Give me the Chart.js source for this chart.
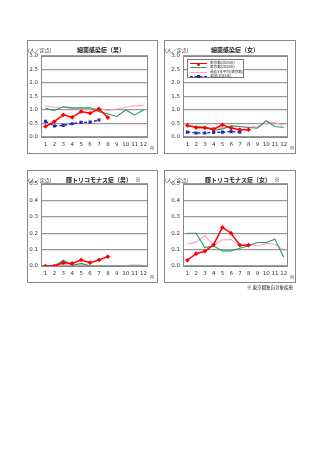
<!DOCTYPE html>
<html>
<head>
<meta charset="utf-8">
<script src="https://cdn.jsdelivr.net/npm/chart.js@4.4.1/dist/chart.umd.min.js"></script>
<style>
body { margin: 0; width: 320px; height: 452px; background: #fff; position: relative; overflow: hidden;
       font-family: "Noto Sans CJK JP", "Noto Sans", sans-serif; color: #222; }
.frame { position: absolute; border: 1px solid #888; box-sizing: border-box; }
canvas { position: absolute; }
.txt { position: absolute; white-space: nowrap; line-height: 1; }
.title { font-size: 6px; font-weight: bold; }
.unit { font-size: 5px; }
.mon { font-size: 4px; }
.legend { position: absolute; border: 1px solid #777; background: #fff; box-sizing: border-box; }
.legend .row { position: absolute; left: 2px; height: 4px; }
.legend .smp { position: absolute; left: 0; top: 2px; width: 17px; height: 0; }
.legend .lbl { position: absolute; left: 20px; top: 0; font-size: 3.6px; line-height: 4px; white-space: nowrap; }
.legend .dot { position: absolute; left: 7px; top: -1.5px; width: 3px; height: 3px; }
</style>
</head>
<body>
<script>
// 月
const months = ['1', '2', '3', '4', '5', '6', '7', '8', '9', '10', '11', '12'];

const seriesNames = ['東京都(2025年)', '東京都(2024年)', '過去5年平均(東京都)', '全国(2025年)'];

// 細菌感染症（男）
const bactM2025 = [0.39, 0.57, 0.82, 0.73, 0.94, 0.88, 1.04, 0.72];
const bactM2024 = [1.06, 0.98, 1.12, 1.08, 1.08, 1.08, 0.94, 0.85, 0.76, 1.00, 0.82, 1.00];
const bactMAvg = [1.15, 1.10, 1.10, 1.06, 1.04, 1.04, 1.06, 0.98, 1.04, 1.10, 1.15, 1.18];
const bactMNation = [0.58, 0.41, 0.43, 0.49, 0.54, 0.55, 0.63];

// 細菌感染症（女）
const bactF2025 = [0.43, 0.35, 0.34, 0.29, 0.45, 0.33, 0.27, 0.27];
const bactF2024 = [0.41, 0.39, 0.37, 0.24, 0.30, 0.41, 0.39, 0.35, 0.33, 0.60, 0.39, 0.35];
const bactFAvg = [0.41, 0.39, 0.37, 0.33, 0.33, 0.37, 0.39, 0.37, 0.39, 0.51, 0.54, 0.41];
const bactFNation = [0.18, 0.15, 0.15, 0.17, 0.18, 0.20, 0.18];

// 膣トリコモナス症（男）
const trichM2025 = [0.0, 0.0, 0.020, 0.016, 0.037, 0.020, 0.037, 0.057];
const trichM2024 = [0.0, 0.0, 0.035, 0.004, 0.016, 0.0, 0.0, 0.0, 0.0, 0.0, 0.0, 0.0];
const trichMAvg = [0.0, 0.003, 0.010, 0.005, 0.008, 0.003, 0.0, 0.003, 0.0, 0.003, 0.007, 0.005];

// 膣トリコモナス症（女）
const trichF2025 = [0.035, 0.075, 0.090, 0.130, 0.235, 0.200, 0.127, 0.127];
const trichF2024 = [0.200, 0.200, 0.112, 0.122, 0.092, 0.092, 0.108, 0.122, 0.143, 0.143, 0.163, 0.055];
const trichFAvg = [0.133, 0.147, 0.184, 0.128, 0.160, 0.161, 0.122, 0.133, 0.124, 0.138, 0.133, 0.096];

const RED = '#ff0000', GREEN = '#2e9a5e', PINK = '#ff9fd0', BLUE = '#2a2ab8';

function el(cls, css, text) {
    const d = document.createElement('div');
    d.className = cls;
    Object.assign(d.style, css);
    if (text) d.textContent = text;
    document.body.appendChild(d);
    return d;
}

// 枠の右上を描く
const boxPlugin = {
    id: 'box',
    afterDraw(chart) {
        const a = chart.chartArea, c = chart.ctx;
        c.save();
        c.strokeStyle = '#888';
        c.lineWidth = 1;
        c.strokeRect(Math.round(a.left) + 0.5, Math.round(a.top) + 0.5, Math.round(a.right - a.left) - 1, Math.round(a.bottom - a.top));
        c.restore();
    }
};

function panel(p) {
    el('frame', { left: p.fx + 'px', top: p.fy + 'px', width: p.fw + 'px', height: p.fh + 'px' });
    const cv = document.createElement('canvas');
    cv.width = p.fw - 2; cv.height = p.fh - 2;
    cv.style.left = (p.fx + 1) + 'px'; cv.style.top = (p.fy + 1) + 'px';
    document.body.appendChild(cv);

    const ds = [
        { label: seriesNames[0], data: p.s2025, borderColor: RED, backgroundColor: RED, borderWidth: 1.5,
          pointRadius: 1.3, pointStyle: 'rectRot' },
        { label: seriesNames[1], data: p.s2024, borderColor: GREEN, borderWidth: 1.1, pointRadius: 0 },
        { label: seriesNames[2], data: p.sAvg, borderColor: PINK, borderWidth: 1.1, pointRadius: 0 }
    ];
    if (p.sNation) {
        ds.splice(1, 0, { label: seriesNames[3], data: p.sNation, borderColor: BLUE, backgroundColor: BLUE,
            borderWidth: 1.4, borderDash: [3, 2], pointRadius: 1.2, pointStyle: 'rect' });
    }

    new Chart(cv.getContext('2d'), {
        type: 'line',
        data: { labels: months, datasets: ds },
        options: {
            responsive: false,
            animation: false,
            layout: { padding: { top: p.pt, right: p.pr, left: 0, bottom: 0 } },
            plugins: { legend: { display: false }, tooltip: { enabled: false } },
            scales: {
                x: {
                    offset: true,
                    afterFit(s) { s.height = p.xh; },
                    grid: { display: false, drawTicks: false },
                    border: { display: false },
                    ticks: { maxRotation: 0, autoSkip: false, padding: 4, color: '#333',
                             font: { size: 5.5, family: 'DejaVu Sans' } }
                },
                y: {
                    min: 0, max: p.max,
                    afterFit(s) { s.width = p.yw; },
                    grid: { color: '#9a9a9a', lineWidth: 1.3, drawTicks: false },
                    border: { display: false },
                    ticks: { stepSize: p.step, padding: 3, color: '#333',
                             callback: v => v.toFixed(1),
                             font: { size: 5.5, family: 'DejaVu Sans' } }
                }
            }
        },
        plugins: [boxPlugin]
    });

    el('txt unit', { left: (p.fx + 1) + 'px', top: (p.fy + 7) + 'px' }, '(人／定点)');
    el('txt title', { left: p.tx + 'px', top: (p.fy + 7) + 'px' }, p.title);
    el('txt mon', { left: (p.fx + p.fw - p.pr + 1) + 'px', top: (p.fy + p.fh - 8) + 'px' }, '月');
}

panel({ fx: 27, fy: 40, fw: 131, fh: 114, yw: 13, xh: 16, pt: 15, pr: 9, max: 3, step: 0.5,
        title: '細菌感染症（男）', tx: 77, s2025: bactM2025, s2024: bactM2024, sAvg: bactMAvg, sNation: bactMNation });
panel({ fx: 164, fy: 40, fw: 132, fh: 114, yw: 18, xh: 16, pt: 15, pr: 7, max: 3, step: 0.5,
        title: '細菌感染症（女）', tx: 211, s2025: bactF2025, s2024: bactF2024, sAvg: bactFAvg, sNation: bactFNation });
panel({ fx: 27, fy: 170, fw: 131, fh: 113, yw: 13, xh: 16, pt: 13, pr: 9, max: 0.5, step: 0.1,
        title: '膣トリコモナス症（男）　※', tx: 66, s2025: trichM2025, s2024: trichM2024, sAvg: trichMAvg });
panel({ fx: 164, fy: 170, fw: 132, fh: 113, yw: 18, xh: 16, pt: 13, pr: 7, max: 0.5, step: 0.1,
        title: '膣トリコモナス症（女）　※', tx: 205, s2025: trichF2025, s2024: trichF2024, sAvg: trichFAvg });

// 凡例（細菌感染症（女）の中）
const lg = el('legend', { left: '187px', top: '59px', width: '57px', height: '19px' });
const legendStyles = [
    { c: RED, st: 'solid', w: 1.5, dot: true, r: '50%' },
    { c: GREEN, st: 'solid', w: 1.1 },
    { c: PINK, st: 'solid', w: 1.1 },
    { c: BLUE, st: 'dashed', w: 1.4, dot: true, r: '0' }
];
const legendOrder = [0, 1, 2, 3];
legendOrder.forEach((k, i) => {
    const s = legendStyles[i];
    const row = document.createElement('div');
    row.className = 'row';
    row.style.top = (1 + i * 4.3) + 'px';
    const smp = document.createElement('div');
    smp.className = 'smp';
    smp.style.borderTop = s.w + 'px ' + s.st + ' ' + s.c;
    if (s.dot) {
        const d = document.createElement('div');
        d.className = 'dot';
        d.style.background = s.c;
        d.style.borderRadius = s.r;
        smp.appendChild(d);
    }
    const lbl = document.createElement('div');
    lbl.className = 'lbl';
    lbl.textContent = seriesNames[k];
    row.appendChild(smp);
    row.appendChild(lbl);
    lg.appendChild(row);
});

el('txt unit', { left: '247px', top: '285px', fontSize: '4.5px' }, '※ 東京都独自対象疾患');
</script>
</body>
</html>
